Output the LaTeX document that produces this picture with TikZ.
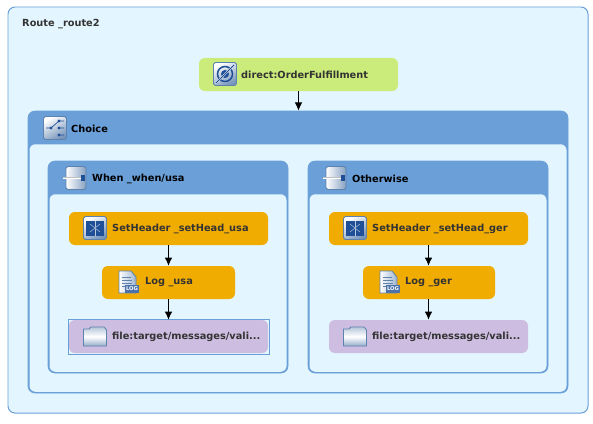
\documentclass[tikz,border=0pt]{standalone}
\usepackage{fontspec}
\setmainfont{DejaVu Sans}
\usepackage{xcolor}
\usetikzlibrary{arrows.meta,positioning}
\definecolor{routebg}{HTML}{E3F6FF}
\definecolor{frameblue}{HTML}{6A9FD8}
\definecolor{fromgreen}{HTML}{CBEB7A}
\definecolor{procorange}{HTML}{F0AC00}
\definecolor{topurple}{HTML}{CDBDE0}
\definecolor{icondark}{HTML}{1F4F96}
\definecolor{iconedge}{HTML}{5E82AE}

\tikzset{
 iconsq/.pic={\draw[iconedge,line width=.7pt,rounded corners=1.5pt,left color=white,right color=iconedge!85,shading angle=30] (-11.5,-11.5) rectangle (11.5,11.5);},
 icondirect/.pic={\pic{iconsq};
  \draw[icondark,line width=1.3pt] (0,0) circle (7.5);
  \fill[icondark] (0,0) circle (4);
  \draw[white!85!icondark,line width=1.6pt] (-9,9)--(9,-9);
  \draw[icondark,line width=.8pt] (-9,9)--(9,-9);},
 iconchoice/.pic={\pic{iconsq};
  \draw[icondark,line width=.6pt] (-9,0)--(-4,0)--(4,-7)--(9,-7) (4,0)--(9,0) (4,7)--(9,7);
  \fill[icondark] (-4,0) circle (1.6) (4,-7) circle (1.6) (4,0) circle (1.6) (4,7) circle (1.6);},
 iconwhen/.pic={\draw[iconedge,line width=.7pt,rounded corners=1.5pt,left color=white,right color=iconedge!75] (-10,-11.5) rectangle (10,11.5);
  \fill[black!25] (-13,-1.2) rectangle (5,1.2);
  \fill[white] (-13,-.4) rectangle (5,.4);
  \fill[icondark] (5,-3) rectangle (9,3);},
 iconheader/.pic={\pic{iconsq};
  \fill[icondark] (-9,-7.5) rectangle (9,7.5);
  \draw[white!70!icondark,line width=.6pt] (0,-7.5)--(0,7.5);
  \draw[white!55!icondark,line width=.5pt] (-5,-4)--(5,4) (-5,4)--(5,-4);},
 iconlog/.pic={\draw[iconedge,line width=.7pt,left color=white,right color=iconedge!60] (-9,-11)--(3,-11)--(8,-5)--(8,11)--(-9,11)--cycle;
  \draw[iconedge,line width=.7pt] (-6,-5)--(3,-5) (-6,-2)--(4,-2) (-6,1)--(4,1) (-6,4)--(-2,4);
  \fill[icondark!80] (-3,3) rectangle (11,11);
  \node[inner sep=0pt,text=white,font=\bfseries\fontsize{4.5}{5}\selectfont] at (4,7) {LOG};},
 iconfile/.pic={\draw[iconedge,line width=.7pt,top color=iconedge!45,bottom color=iconedge!65,middle color=white] (-11.5,-7)--(-11.5,10)--(11.5,10)--(11.5,-6)--(9,-9)--(-4,-9)--(-6,-7)--cycle;},
 routebox/.style={draw=frameblue,fill=routebg,line width=.85pt,rounded corners=6pt,inner sep=0pt},
 headbox/.style={draw=frameblue,fill=frameblue,line width=.6pt,rounded corners=6pt,inner sep=0pt},
 bodybox/.style={fill=routebg,rounded corners=5pt,inner sep=0pt},
 stepnode/.style={rounded corners=5pt,inner sep=0pt,minimum height=33*.03cm},
 lbl/.style={anchor=west,inner sep=0pt,font=\bfseries\fontsize{8.35}{10}\selectfont,text=black!80},
 hlbl/.style={lbl,text=black},
 arr/.style={-{Latex[length=7pt,width=6.5pt]},line width=.85pt,black}
}

\begin{document}
\begin{tikzpicture}[x=.03cm,y=-.03cm]
\path[use as bounding box] (0,0) rectangle (593,423);
% outer route
\node[routebox,minimum width=580*.03cm,minimum height=406*.03cm] (route) at (298,210) {};
\node[lbl] (routelbl) at (22,24.5) {Route \_route2};
% from endpoint
\node[stepnode,fill=fromgreen,minimum width=199*.03cm] (direct) at (298.5,74.5) {};
\pic at (225,74) {icondirect};
\node[lbl] (directlbl) at (241,74.5) {direct:OrderFulfillment};
% choice
\node[headbox,minimum width=540*.03cm,minimum height=282*.03cm] (choice) at (298,252) {};
\node[bodybox,minimum width=537*.03cm,minimum height=247.5*.03cm] (choicebody) at (298,268) {};
\pic at (55,128) {iconchoice};
\node[hlbl] (choicelbl) at (71,128.5) {Choice};
% when
\node[headbox,minimum width=240*.03cm,minimum height=212*.03cm] (when) at (168,267) {};
\node[bodybox,minimum width=237*.03cm,minimum height=177.5*.03cm] (whenbody) at (168,283) {};
\pic at (76,178) {iconwhen};
\node[hlbl] (whenlbl) at (92,178.5) {When \_when/usa};
% otherwise
\node[headbox,minimum width=240*.03cm,minimum height=212*.03cm] (other) at (428,267) {};
\node[bodybox,minimum width=237*.03cm,minimum height=177.5*.03cm] (otherbody) at (428,283) {};
\pic at (336,178) {iconwhen};
\node[hlbl] (otherlbl) at (352,178.5) {Otherwise};
% usa branch
\node[stepnode,fill=procorange,minimum width=199*.03cm] (headusa) at (168.5,228.5) {};
\pic at (95,228) {iconheader};
\node[lbl] (headusalbl) at (112,228.5) {SetHeader \_setHead\_usa};
\node[stepnode,fill=procorange,minimum width=133*.03cm] (logusa) at (168.5,282.5) {};
\pic at (128,282) {iconlog};
\node[lbl] (logusalbl) at (145,282.5) {Log \_usa};
\node[draw=frameblue,line width=.85pt,inner sep=0pt,minimum width=201*.03cm,minimum height=35*.03cm] (selusa) at (168.5,336.5) {};
\node[stepnode,fill=topurple,minimum width=199*.03cm] (fileusa) at (168.5,336.5) {};
\pic at (95,336) {iconfile};
\node[lbl] (fileusalbl) at (112,336.5) {file:target/messages/vali...};
% ger branch
\node[stepnode,fill=procorange,minimum width=199*.03cm] (headger) at (428.5,228.5) {};
\pic at (355,228) {iconheader};
\node[lbl] (headgerlbl) at (372,228.5) {SetHeader \_setHead\_ger};
\node[stepnode,fill=procorange,minimum width=132*.03cm] (logger) at (429,282.5) {};
\pic at (389,282) {iconlog};
\node[lbl] (loggerlbl) at (405,282.5) {Log \_ger};
\node[stepnode,fill=topurple,minimum width=199*.03cm] (fileger) at (428.5,336.5) {};
\pic at (355,336) {iconfile};
\node[lbl] (filegerlbl) at (372,336.5) {file:target/messages/vali...};
% connectors
\draw[arr] (direct)--(direct|-choice.north);
\draw[arr] (headusa)--(logusa);
\draw[arr] (logusa)--(fileusa);
\draw[arr] (headger)--(headger|-logger.north);
\draw[arr] (headger|-logger.south)--(fileger);
\end{tikzpicture}
\end{document}
